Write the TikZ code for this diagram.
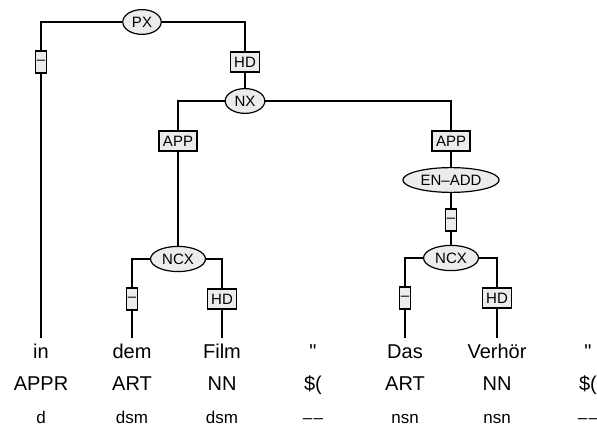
\documentclass[tikz,border=0pt]{standalone}
\usepackage{fontspec}
\setmainfont{Liberation Sans}[Ligatures=TeXOff]
\usetikzlibrary{positioning,shapes.geometric}
\tikzset{
  catnode/.style={draw, ellipse, fill=gray!15, line width=0.6pt,
                  font=\fontsize{7.5}{9}\selectfont, inner xsep=1.8pt, inner ysep=1.8pt},
  edgebox/.style={draw, rectangle, fill=gray!15, line width=0.6pt,
                  font=\fontsize{7.5}{9}\selectfont, minimum height=10pt,
                  inner xsep=2pt, inner ysep=0pt},
  dashbox/.style={edgebox, minimum height=11pt, inner xsep=0.7pt},
  branch/.style={line width=0.6pt}
}

\begin{document}
\begin{tikzpicture}[
      x=0.5pt, y=-0.5pt,
      wordtxt/.style={font=\fontsize{10}{12}\selectfont, anchor=base,
                      inner sep=2.5pt, text height=7.5pt, text depth=2pt},
      tagtxt/.style={font=\fontsize{10}{12}\selectfont, anchor=base, inner sep=0pt},
      morphtxt/.style={font=\fontsize{8.5}{10}\selectfont, anchor=base, inner sep=0pt}
    ]
    \useasboundingbox (0,0) rectangle (597,437);
    \def\xA{41} \def\xB{132} \def\xC{222} \def\xD{313}
    \def\xE{405} \def\xF{497} \def\xG{588}
    \def\yW{358} \def\yT{390} \def\yM{423}

    % terminals
    \node[wordtxt] (w1) at (\xA,\yW) {in};
    \node[wordtxt] (w2) at (\xB,\yW) {dem};
    \node[wordtxt] (w3) at (\xC,\yW) {Film};
    \node[wordtxt] (w4) at (\xD,\yW) {"};
    \node[wordtxt] (w5) at (\xE,\yW) {Das};
    \node[wordtxt] (w6) at (\xF,\yW) {Verhör};
    \node[wordtxt] (w7) at (\xG,\yW) {"};

    \node[tagtxt] (t1) at (\xA,\yT) {APPR};
    \node[tagtxt] (t2) at (\xB,\yT) {ART};
    \node[tagtxt] (t3) at (\xC,\yT) {NN};
    \node[tagtxt] (t4) at (\xD,\yT) {\$(};
    \node[tagtxt] (t5) at (\xE,\yT) {ART};
    \node[tagtxt] (t6) at (\xF,\yT) {NN};
    \node[tagtxt] (t7) at (\xG,\yT) {\$(};

    \node[morphtxt] (m1) at (\xA,\yM) {d};
    \node[morphtxt] (m2) at (\xB,\yM) {dsm};
    \node[morphtxt] (m3) at (\xC,\yM) {dsm};
    \node[morphtxt] (m4) at (\xD,\yM) {\textendash\kern0.6pt\textendash};
    \node[morphtxt] (m5) at (\xE,\yM) {nsn};
    \node[morphtxt] (m6) at (\xF,\yM) {nsn};
    \node[morphtxt] (m7) at (\xG,\yM) {\textendash\kern0.6pt\textendash};

    % PX
    \node[catnode] (PX) at (142,22) {PX};
    \node[dashbox] (PXa) at (\xA,62) {\textendash};
    \node[edgebox] (PXb) at (245,62) {HD};
    \draw[branch] (PX.west) -| (PXa.north);
    \draw[branch] (PX.east) -| (PXb.north);
    \draw[branch] (PXa) -- (w1);

    % NX
    \node[catnode] (NX) at (245,101) {NX};
    \node[edgebox] (NXa) at (178,141) {APP};
    \node[edgebox] (NXb) at (451,141) {APP};
    \draw[branch] (PXb) -- (NX);
    \draw[branch] (NX.west) -| (NXa.north);
    \draw[branch] (NX.east) -| (NXb.north);

    % left NCX
    \node[catnode] (NCXl) at (178,259) {NCX};
    \node[dashbox] (NCXla) at (\xB,299) {\textendash};
    \node[edgebox] (NCXlb) at (\xC,299) {HD};
    \draw[branch] (NXa) -- (NCXl);
    \draw[branch] (NCXl.west) -| (NCXla.north);
    \draw[branch] (NCXl.east) -| (NCXlb.north);
    \draw[branch] (NCXla) -- (w2);
    \draw[branch] (NCXlb) -- (w3);

    % EN-ADD and right NCX
    \node[catnode] (ENADD) at (451,180) {EN\textendash ADD};
    \node[dashbox] (ENa) at (451,220) {\textendash};
    \node[catnode] (NCXr) at (451,258) {NCX};
    \node[dashbox] (NCXra) at (\xE,298) {\textendash};
    \node[edgebox] (NCXrb) at (\xF,298) {HD};
    \draw[branch] (NXb) -- (ENADD);
    \draw[branch] (ENADD) -- (ENa);
    \draw[branch] (ENa) -- (NCXr);
    \draw[branch] (NCXr.west) -| (NCXra.north);
    \draw[branch] (NCXr.east) -| (NCXrb.north);
    \draw[branch] (NCXra) -- (w5);
    \draw[branch] (NCXrb) -- (w6);
  \end{tikzpicture}
\end{document}
